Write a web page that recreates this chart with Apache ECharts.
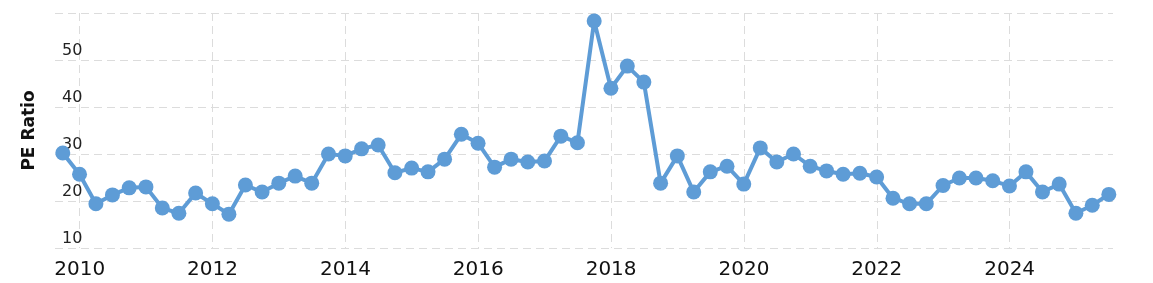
<!DOCTYPE html>
<html>
<head>
<meta charset="utf-8">
<script src="https://cdn.jsdelivr.net/npm/echarts@6/dist/echarts.min.js"></script>
<style>
html,body{margin:0;padding:0;background:#fff;}
#chart{width:1153px;height:283px;}
</style>
</head>
<body>
<div id="chart"></div>
<script>
// Quarter-end dates
var dates = [
 '2009-09-30','2009-12-31',
 '2010-03-31','2010-06-30','2010-09-30','2010-12-31',
 '2011-03-31','2011-06-30','2011-09-30','2011-12-31',
 '2012-03-31','2012-06-30','2012-09-30','2012-12-31',
 '2013-03-31','2013-06-30','2013-09-30','2013-12-31',
 '2014-03-31','2014-06-30','2014-09-30','2014-12-31',
 '2015-03-31','2015-06-30','2015-09-30','2015-12-31',
 '2016-03-31','2016-06-30','2016-09-30','2016-12-31',
 '2017-03-31','2017-06-30','2017-09-30','2017-12-31',
 '2018-03-31','2018-06-30','2018-09-30','2018-12-31',
 '2019-03-31','2019-06-30','2019-09-30','2019-12-31',
 '2020-03-31','2020-06-30','2020-09-30','2020-12-31',
 '2021-03-31','2021-06-30','2021-09-30','2021-12-31',
 '2022-03-31','2022-06-30','2022-09-30','2022-12-31',
 '2023-03-31','2023-06-30','2023-09-30','2023-12-31',
 '2024-03-31','2024-06-30','2024-09-30','2024-12-31',
 '2025-03-31','2025-06-30'
];
// PE ratio values
var peRatio = [
 30.2, 25.7,
 19.4, 21.3, 22.8, 23.0,
 18.5, 17.4, 21.7, 19.4,
 17.2, 23.4, 21.9, 23.8,
 25.3, 23.8, 30.0, 29.6,
 31.1, 31.9, 26.0, 27.0,
 26.2, 28.9, 34.2, 32.3,
 27.2, 28.9, 28.3, 28.5,
 33.8, 32.4, 58.3, 44.0,
 48.7, 45.3, 23.8, 29.6,
 21.9, 26.2, 27.4, 23.6,
 31.3, 28.3, 30.0, 27.4,
 26.4, 25.7, 25.9, 25.1,
 20.6, 19.4, 19.4, 23.3,
 24.9, 24.9, 24.3, 23.2,
 26.2, 21.9, 23.6, 17.4,
 19.1, 21.4
];
var xTickYears = [2010, 2012, 2014, 2016, 2018, 2020, 2022, 2024];
var yTicks = [10, 20, 30, 40, 50, 60];
var yTitle = 'PE Ratio';

function toYear(s) {
  var p = s.split('-');
  var y = +p[0];
  var start = Date.UTC(y, 0, 1), end = Date.UTC(y + 1, 0, 1);
  var d = Date.UTC(y, +p[1] - 1, +p[2]);
  return y + (d - start) / (end - start);
}
var seriesData = dates.map(function (d, i) { return [toYear(d), peRatio[i]]; });

var chart = echarts.init(document.getElementById('chart'), null, {renderer: 'canvas'});
chart.setOption({
  animation: false,
  backgroundColor: '#fff',
  grid: {left: 55, right: 40, top: 13, bottom: 35, containLabel: false},
  xAxis: {
    type: 'value',
    min: 2009.628,
    max: 2025.556,
    axisLine: {show: false},
    axisTick: {show: false, customValues: xTickYears},
    axisLabel: {
      customValues: xTickYears,
      formatter: function (v) { return String(v); },
      fontFamily: 'DejaVu Sans',
      fontSize: 20,
      color: '#111',
      margin: 12
    },
    splitLine: {show: true, lineStyle: {color: '#dcdcdc', width: 1, type: [8, 5]}}
  },
  yAxis: {
    type: 'value',
    min: yTicks[0],
    max: yTicks[yTicks.length - 1],
    interval: 10,
    name: yTitle,
    nameLocation: 'middle',
    nameGap: 17,
    nameTextStyle: {fontFamily: 'DejaVu Sans', fontWeight: 'bold', fontSize: 17, color: '#111'},
    axisLine: {show: false},
    axisTick: {show: false},
    axisLabel: {
      inside: true,
      showMaxLabel: false,
      align: 'left',
      verticalAlign: 'bottom',
      margin: 7,
      padding: [0, 0, 1, 0],
      fontFamily: 'DejaVu Sans',
      fontSize: 16,
      color: '#222'
    },
    splitLine: {show: true, lineStyle: {color: '#dcdcdc', width: 1, type: [8, 5]}}
  },
  series: [{
    type: 'line',
    data: seriesData,
    symbol: 'circle',
    symbolSize: 15,
    showAllSymbol: true,
    lineStyle: {color: '#5e9cd6', width: 4},
    itemStyle: {color: '#5e9cd6'},
    z: 3
  }]
});
</script>
</body>
</html>
